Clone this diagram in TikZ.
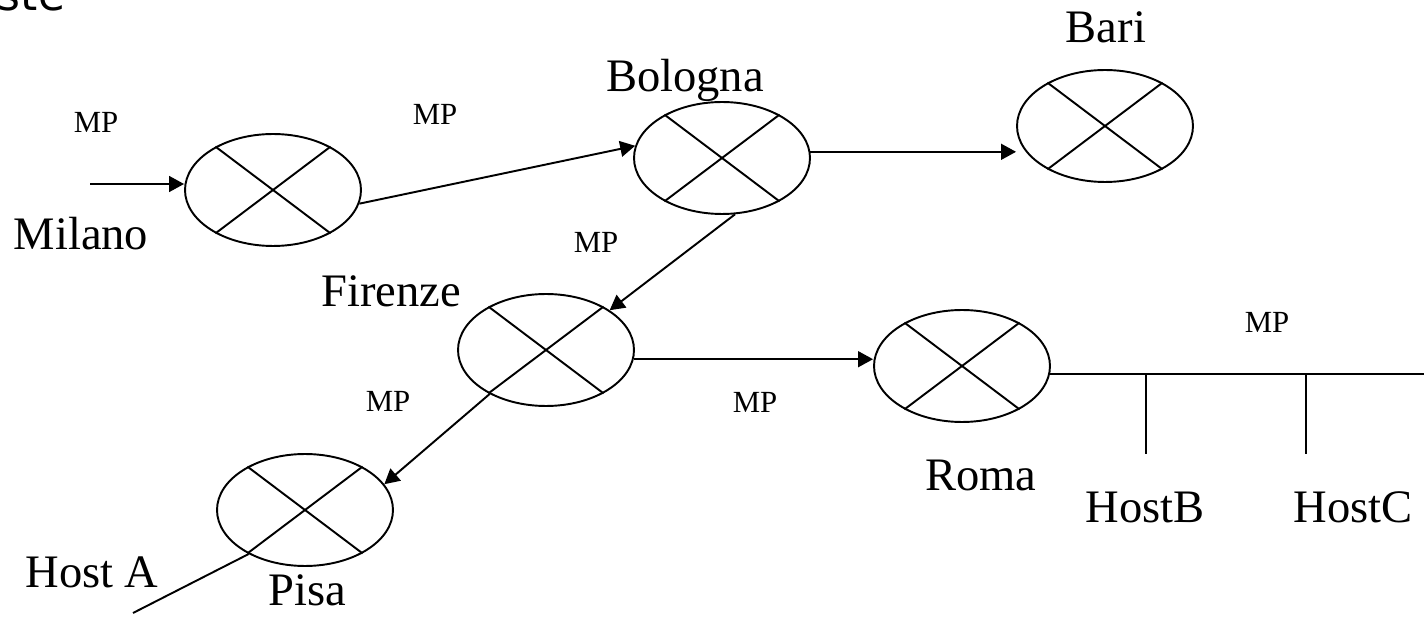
\documentclass[tikz,border=0pt]{standalone}
\usepackage{fontspec}
\setmainfont{Liberation Serif}
\newfontfamily\titlefont{DejaVu Sans}
\usetikzlibrary{shapes.geometric, arrows.meta}

\begin{document}
\begin{tikzpicture}[x=0.02cm, y=-0.02cm, line width=1.1pt,
  >={Triangle[length=8.5pt,width=9pt]},
  router/.style={ellipse, draw, minimum width=3.52cm, minimum height=2.24cm, inner sep=0pt},
  city/.style={anchor=base, inner sep=0pt, font=\fontsize{26.5}{30}\selectfont},
  mp/.style={anchor=base, inner sep=0pt, font=\fontsize{17.5}{20}\selectfont}]
  \useasboundingbox (0,0) rectangle (1424,621);
  \node[anchor=base west, inner sep=0pt,
  font=\titlefont\fontsize{25}{28}\selectfont] (title) at (-3,11) {ste};

  \node[router] (milano) at (273,190) {};
  \node[router] (bologna) at (722,158) {};
  \node[router] (bari) at (1105,126) {};
  \node[router] (firenze) at (546,350) {};
  \node[router] (roma) at (962,366) {};
  \node[router] (pisa) at (305,510) {};
  \foreach \r in {milano,bologna,bari,firenze,roma,pisa}
    \draw (\r.143) -- (\r.-37) (\r.37) -- (\r.-143);

  \node[city] (milanolbl) at (81,250) {Milano};
  \node[city] (bolognalbl) at (685,92) {Bologna};
  \node[city] (barilbl) at (1106,43) {Bari};
  \node[city] (firenzelbl) at (391,307) {Firenze};
  \node[city] (romalbl) at (981,491) {Roma};
  \node[city] (pisalbl) at (307,605) {Pisa};
  \node[city] (hosta) at (92,587) {Host A};
  \node[city] (hostb) at (1145,522) {HostB};
  \node[city] (hostc) at (1353,522) {HostC};

  \node[mp] (mpin) at (96,133) {MP};
  \node[mp] (mpmb) at (435,125) {MP};
  \node[mp] (mpbf) at (596,253) {MP};
  \node[mp] (mpfp) at (388,412) {MP};
  \node[mp] (mpfr) at (755,413) {MP};
  \node[mp] (mpbus) at (1267,333) {MP};

  \coordinate (in) at (90,184);
  \coordinate (hostaend) at (133,613);
  \coordinate (busend) at (1424,374);
  \coordinate (dropb) at (1146,454);
  \coordinate (dropc) at (1306,454);

  \draw[->] (in) -- (in -| milano.west);
  \draw[->] (milano.-9) -- (bologna.172);
  \draw[->] (bologna.4) -- (bologna.4 -| bari.west);
  \draw[->] (bologna.-77) -- (firenze.32);
  \draw[->] (firenze.-6) -- (firenze.-6 -| roma.west);
  \draw[->] (firenze.218) -- (pisa.18);
  \draw (pisa.218) -- (hostaend);
  \draw (roma.-5) -- (roma.-5 -| busend);
  \draw (dropb |- busend) -- (dropb);
  \draw (dropc |- busend) -- (dropc);
\end{tikzpicture}
\end{document}
